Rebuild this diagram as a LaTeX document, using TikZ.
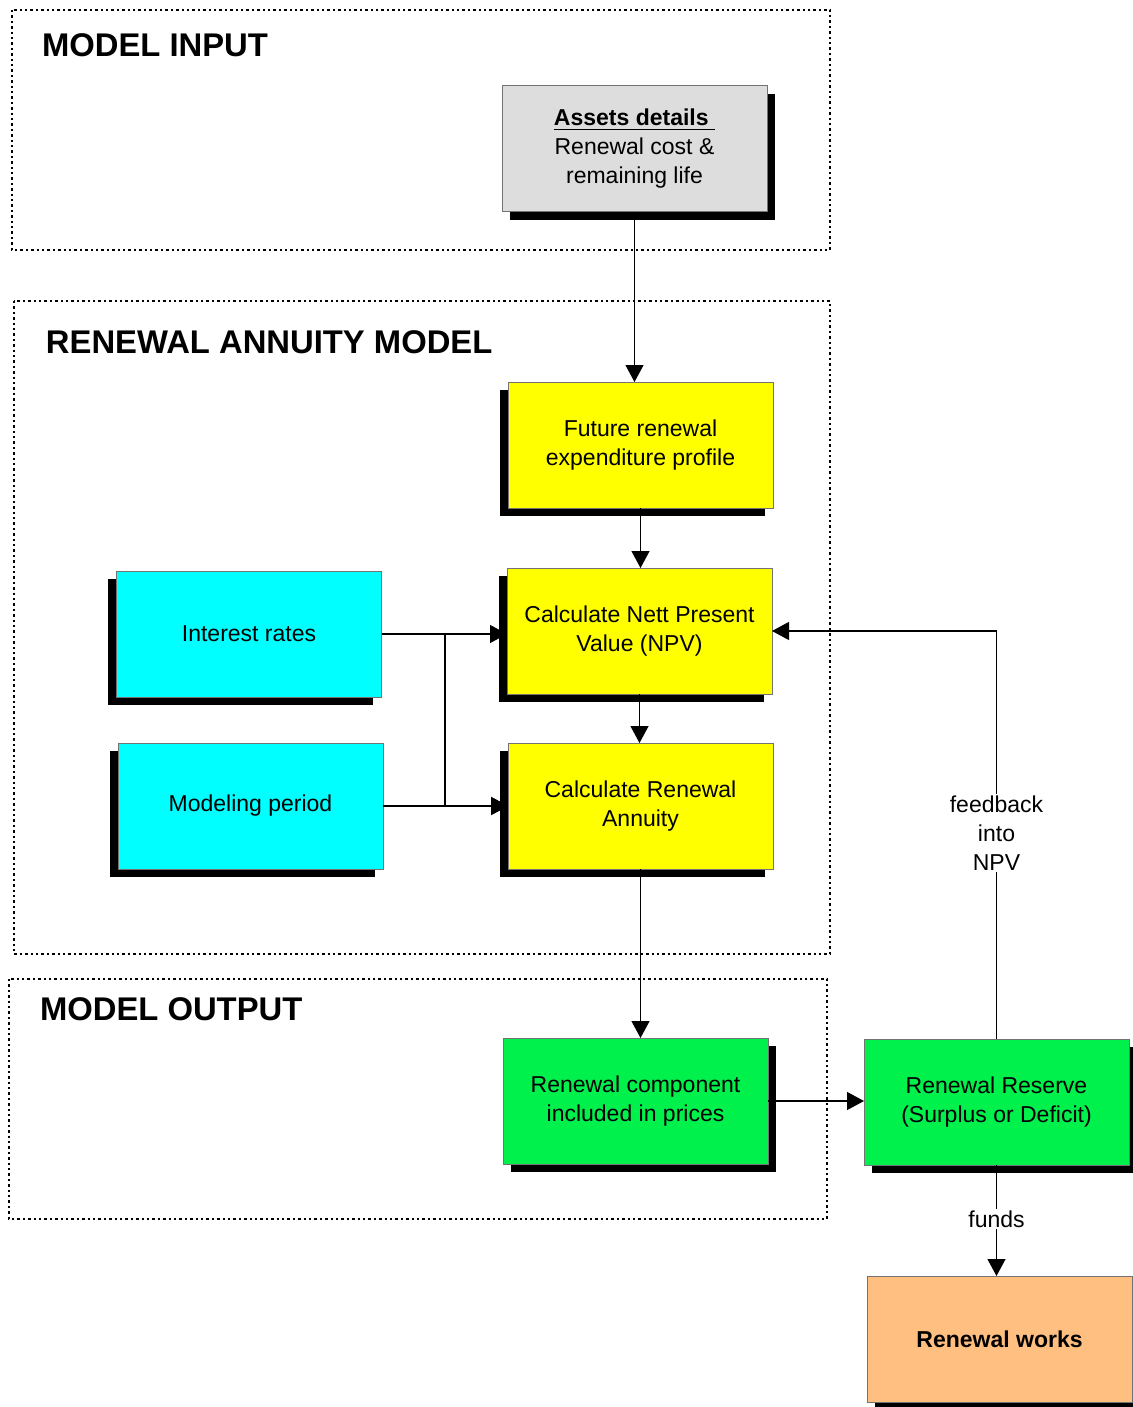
\documentclass[tikz,border=0pt]{standalone}
\usepackage{fontspec}
\setmainfont{Liberation Sans}
\usetikzlibrary{arrows.meta,shadows}
\definecolor{ink}{gray}{0.0}
\definecolor{edge}{gray}{0.45}
\definecolor{inbox}{HTML}{DDDDDD}
\definecolor{calc}{HTML}{FFFF00}
\definecolor{param}{HTML}{00FFFF}
\definecolor{outbox}{HTML}{00F04C}
\definecolor{works}{HTML}{FFBF80}

\begin{document}
\begin{tikzpicture}[x=0.5pt,y=-0.5pt,
  every node/.style={inner sep=0pt,outer sep=0pt,text=ink},
  frame/.style={draw=ink,line width=1.4pt,dash pattern=on 1.2pt off 1.5pt},
  ttl/.style={font=\bfseries\fontsize{16.4}{19}\selectfont,anchor=west},
  box/.style={draw=edge,line width=0.5pt,minimum width=132.5pt,minimum height=63pt,
              align=center,font=\fontsize{11.5}{14.5}\selectfont},
  shr/.style={drop shadow={shadow xshift=4.2pt,shadow yshift=-4pt,opacity=1,fill=black}},
  shl/.style={drop shadow={shadow xshift=-4.2pt,shadow yshift=-4pt,opacity=1,fill=black}},
  lbl/.style={fill=white,inner sep=1pt,align=center,font=\fontsize{11.5}{14.5}\selectfont},
  flow/.style={draw=ink,line width=0.6pt,-{Triangle[length=8.5pt,width=9pt]}},
  wire/.style={draw=ink,line width=0.6pt}]
\useasboundingbox (0,0) rectangle (1133,1407);

% ---- frames --------------------------------------------------------------
\draw[frame] (12,10) rectangle (830,250);
\draw[frame] (14,301) rectangle (830,954);
\draw[frame] (9,979) rectangle (827,1219);
\node[ttl] (tin) at (42,45) {MODEL INPUT};
\node[ttl] (tmod) at (46,342) {RENEWAL ANNUITY MODEL};
\node[ttl] (tout) at (40,1009) {MODEL OUTPUT};

% ---- input ---------------------------------------------------------------
\node[box,shr,fill=inbox] (assets) at (634.5,149)
  {\textbf{\underline{Assets details\ }}\\Renewal cost \&\\remaining life};

% ---- model ---------------------------------------------------------------
\node[box,shl,fill=calc] (future) at (640.5,445) {Future renewal\\expenditure profile};
\node[box,shl,fill=calc] (npv) at (639.5,631) {Calculate Nett Present\\Value (NPV)};
\node[box,shl,fill=calc] (annuity) at (640.5,806) {Calculate Renewal\\Annuity};
\node[box,shl,fill=param] (interest) at (249,634) {Interest rates};
\node[box,shl,fill=param] (modeling) at (250.5,806) {Modeling period};

% ---- output --------------------------------------------------------------
\node[box,shr,fill=outbox] (component) at (635.5,1101) {Renewal component\\included in prices};
\node[box,shr,fill=outbox] (reserve) at (996.5,1102) {Renewal Reserve\\(Surplus or Deficit)};
\node[box,shr,fill=works,font=\bfseries\fontsize{11.5}{14.5}\selectfont] (renew) at (999.5,1339) {Renewal works};

% ---- flow ----------------------------------------------------------------
\draw[flow] (assets.south) -- (assets.south |- future.north);
\draw[flow] (future.south) -- (future.south |- npv.north);
\draw[flow] (npv.south) -- (npv.south |- annuity.north);
\draw[flow] (annuity.south) -- (annuity.south |- component.north);
\draw[flow] (interest.east) -- (interest.east -| npv.west);
\coordinate (jn) at (445,634);
\draw[flow] (jn) |- (annuity.west);
\draw[flow] (modeling.east) -- (modeling.east -| annuity.west);
\draw[flow] (component.east) -- (component.east -| reserve.west);
\draw[flow] (reserve.north) |- (npv.east);
\node[lbl] (fb) at (996.5,833) {feedback\\into\\NPV};
\draw[flow] (reserve.south) -- (reserve.south |- renew.north);
\node[lbl] (fd) at (996.5,1219) {funds};
\end{tikzpicture}
\end{document}
